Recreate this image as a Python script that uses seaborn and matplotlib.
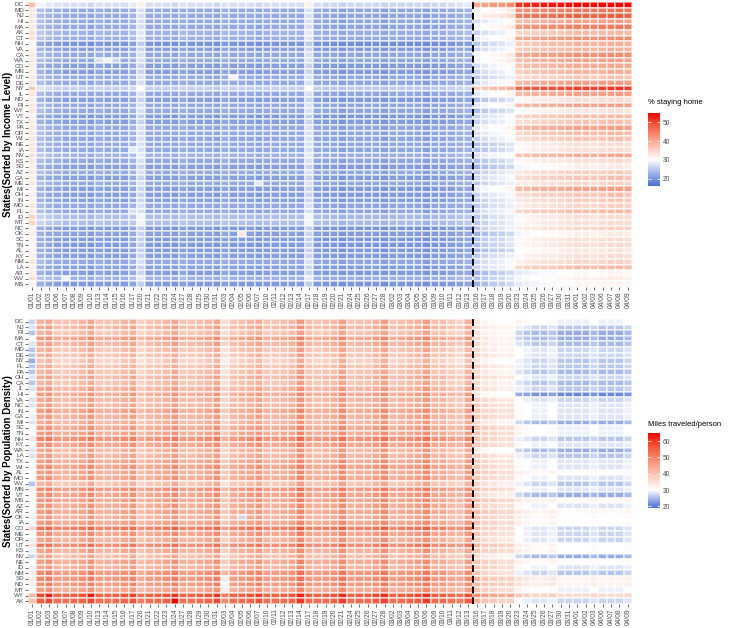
import numpy as np
import pandas as pd
import matplotlib
matplotlib.use("Agg")
import matplotlib.pyplot as plt
import seaborn as sns
from matplotlib.colors import LinearSegmentedColormap

# weekdays 01/01 - 04/09 (2020)
dates = ["01/01", "01/02", "01/03", "01/06", "01/07", "01/08", "01/09", "01/10",
         "01/13", "01/14", "01/15", "01/16", "01/17", "01/20", "01/21", "01/22",
         "01/23", "01/24", "01/27", "01/28", "01/29", "01/30", "01/31",
         "02/03", "02/04", "02/05", "02/06", "02/07", "02/10", "02/11", "02/12",
         "02/13", "02/14", "02/17", "02/18", "02/19", "02/20", "02/21", "02/24",
         "02/25", "02/26", "02/27", "02/28",
         "03/02", "03/03", "03/04", "03/05", "03/06", "03/09", "03/10", "03/11",
         "03/12", "03/13", "03/16", "03/17", "03/18", "03/19", "03/20", "03/23",
         "03/24", "03/25", "03/26", "03/27", "03/30", "03/31",
         "04/01", "04/02", "04/03", "04/06", "04/07", "04/08", "04/09"]

# period of each column: 0 = before 03/13, 1 = week of 03/16, 2 = from 03/23
period = [0] * 53 + [1] * 5 + [2] * 14

income_states = ["DC", "MD", "NJ", "HI", "MA", "AK", "CT", "NH", "VA", "CA",
                 "WA", "CO", "MN", "UT", "DE", "NY", "IL", "ND", "RI", "WY",
                 "VT", "TX", "PA", "OR", "WI", "NE", "IA", "NV", "KS", "SD",
                 "AZ", "GA", "ME", "MI", "OH", "IN", "MO", "FL", "ID", "MT",
                 "NC", "OK", "SC", "TN", "AL", "KY", "NM", "LA", "AR", "WV", "MS"]

density_states = ["DC", "NJ", "RI", "MA", "CT", "MD", "DE", "NY", "FL", "PA",
                  "OH", "CA", "IL", "HI", "VA", "NC", "IN", "GA", "MI", "SC",
                  "TN", "NH", "KY", "WA", "LA", "TX", "WI", "AL", "MO", "WV",
                  "MN", "VT", "MS", "AZ", "AR", "OK", "IA", "CO", "ME", "OR",
                  "UT", "KS", "NV", "NE", "ID", "NM", "SD", "ND", "MT", "WY", "AK"]

# % staying home, typical level per state in each period (income order)
home_pre = [27, 22, 22, 22, 22, 23, 22.5, 20, 21, 22, 22, 21, 21, 22, 22, 25.5, 22,
            21, 22, 22, 20.5, 21, 22, 22, 22, 22, 22, 23, 22, 21, 22, 21, 22, 21, 21,
            21, 22, 22, 24, 24, 20.5, 21, 20.5, 20.5, 20.5, 21, 22, 21, 21, 23, 20.5]
home_mid = [42, 31, 33, 29, 31, 28, 30, 27, 28, 31, 31, 29, 28, 27, 29, 38, 30, 26,
            30, 26, 28, 28, 30, 29, 28, 26, 26, 29, 26, 25, 27, 28, 27, 30, 28, 27,
            27, 28, 27, 27, 27, 25, 26, 26, 25, 27, 28, 28, 25, 26, 25]
home_late = [54, 45, 47, 40, 44, 37, 42, 38, 38, 42, 40, 39, 38, 36, 40, 50, 40, 33,
             40, 32, 37, 36, 40, 37, 36, 33, 33, 39, 33, 31, 35, 36, 34, 40, 36, 35,
             34, 37, 33, 33, 34, 31, 33, 33, 32, 33, 34, 37, 30, 31, 30]
# day-to-day swing of each column
home_day = [11, 2, 1, 0.5, 0, 0, 0, -0.5, 0.5, 0, 0, 0, 1, 5, 0, 0, 0, -0.5, 0.5, 0,
            0, 0, -0.5,
            0.5, 0, 0, 0, -0.5, 0, 0, 0, 0, 0, 5, 0, -0.5, -0.5, -1, -0.5, -0.5,
            -0.5, -0.5, -1,
            -0.5, -0.5, -0.5, -0.5, -1, -0.5, -0.5, 0, 0.5, 1, -2, -1, 0, 0.5, 1.5,
            -2, -1.5, -1, -0.5, -0.5, 0, 0.5,
            1, 1, 0.5, 1, 1.5, 1.5, 1]
home_spots = [("WA", "01/13", 27), ("WA", "01/14", 29), ("WA", "01/15", 26),
              ("WV", "01/07", 29), ("OK", "02/05", 33), ("UT", "02/04", 29),
              ("IA", "01/17", 28), ("FL", "01/17", 27), ("ME", "02/07", 28)]

# miles traveled per person (density order)
miles_pre = [41, 42, 40, 45, 42, 40, 40, 38, 40, 40, 42, 40, 42, 44, 42, 42, 44, 43,
             42, 44, 44, 48, 45, 42, 42, 44, 45, 44, 44, 40, 47, 45, 45, 44, 44, 43,
             44, 51, 45, 43, 49, 43, 41, 44, 43, 47, 47, 47, 44, 56, 54]
miles_mid = [31, 33, 32, 33, 33, 33, 34, 31, 34, 33, 35, 33, 34, 31, 35, 36, 36, 36,
             33, 37, 37, 37, 36, 31, 35, 36, 36, 37, 36, 34, 37, 34, 38, 36, 38, 37,
             37, 37, 36, 35, 39, 37, 33, 37, 37, 36, 39, 39, 37, 45, 39]
miles_late = [30, 27, 25, 25, 26, 28, 28, 27, 27, 26, 28, 26, 27, 22, 28, 29, 29, 29,
              25, 30, 30, 27, 29, 25, 27, 29, 29, 31, 29, 27, 29, 25, 32, 29, 32, 31,
              31, 28, 28, 28, 31, 31, 25, 31, 29, 27, 33, 33, 30, 37, 28]
miles_day = [-14, 2, 4, -1, -1, 0, 1, 4, -1, -1, 0, 1, 3, -3, -1, 0, 1, 4, -1, -1, 0,
             1, 4,
             -5, -1, 0, 1, 3, -1, -1, 0, 1, 6, 0, -1, 0, 1, 5, -1, 0, 0, 2, 5,
             -1, 0, 1, 2, 5, 0, 0, -2, -3, 2, 3, 1, 0, -1, -1, 2, 1, 0, 0, 1, -1, -1,
             -1, -1, 0, -1, -1, -1, 0]
miles_spots = [("AK", "01/24", 66), ("WY", "01/03", 62), ("WY", "01/10", 63),
               ("ND", "02/03", 31), ("SD", "02/03", 33), ("MT", "02/03", 33),
               ("OK", "02/05", 27)]


def build(states, pre, mid, late, day, spots):
    levels = np.column_stack([pre, mid, late])
    grid = levels[:, period] + np.array(day)[None, :]
    df = pd.DataFrame(grid, index=states, columns=dates)
    for st, d, v in spots:
        df.loc[st, d] = v
    return df


def make_cmap(vmin, vmax, mid=30):
    p = (mid - vmin) / (vmax - vmin)
    stops = [(0, "#4a70d6"), (p * 0.5, "#a0b3ea"), (p, "#ffffff"),
             (p + (1 - p) * 0.25, "#fdcab9"), (p + (1 - p) * 0.5, "#fa9378"),
             (p + (1 - p) * 0.75, "#f55a3c"), (1, "#ff0000")]
    return LinearSegmentedColormap.from_list("gr2", stops)


home = build(income_states, home_pre, home_mid, home_late, home_day, home_spots)
miles = build(density_states, miles_pre, miles_mid, miles_late, miles_day, miles_spots)

plt.rcParams["font.family"] = ["Liberation Sans", "DejaVu Sans"]

W, H = 729, 628
fig = plt.figure(figsize=(W / 100, H / 100), dpi=100)
ax_top = fig.add_axes([28 / W, 1 - 287 / H, 604 / W, 285 / H])
ax_bot = fig.add_axes([28 / W, 1 - 604 / H, 604 / W, 285 / H])
cax_top = fig.add_axes([648 / W, 1 - 186 / H, 12 / W, 73 / H])
cax_bot = fig.add_axes([648 / W, 1 - 508 / H, 12 / W, 75 / H])

panels = [
    (ax_top, cax_top, home, 16, 55, [20, 30, 40, 50], "% staying home", 106,
     "States(Sorted by Income Level)"),
    (ax_bot, cax_bot, miles, 19, 65, [20, 30, 40, 50, 60], "Miles traveled/person", 428,
     "States(Sorted by Population Density)"),
]

for ax, cax, df, vmin, vmax, cticks, ctitle, ty, ylab in panels:
    sns.heatmap(df, ax=ax, cbar_ax=cax, cmap=make_cmap(vmin, vmax), vmin=vmin, vmax=vmax,
                linewidths=0.1, linecolor=(1, 1, 1, 0.55), xticklabels=True, yticklabels=True)
    ax.set_xlabel("")
    ax.set_ylabel("")
    ax.set_xticklabels(dates, rotation=90)
    ax.set_yticklabels(df.index, rotation=0)
    ax.tick_params(axis="both", length=2, width=0.5, color="#333333",
                   labelcolor="#4d4d4d", pad=1)
    ax.tick_params(axis="x", labelsize=4.8)
    ax.tick_params(axis="y", labelsize=4.5)
    ax.axvline(53, color="black", linestyle=(0, (3.5, 2)), linewidth=1.4)

    cb = ax.collections[0].colorbar
    cb.set_ticks(cticks)
    cb.outline.set_visible(False)
    cb.ax.tick_params(length=2.5, width=0.6, color="white", direction="in",
                      left=True, right=True, labelsize=4.8, labelcolor="#4d4d4d", pad=2)
    fig.text(648 / W, 1 - ty / H, ctitle, fontsize=5.5, va="bottom", ha="left")

    pos = ax.get_position()
    fig.text(8 / W, (pos.y0 + pos.y1) / 2, ylab, rotation=90, fontweight="bold",
             fontsize=7, ha="center", va="center")

fig.savefig("out.png", dpi=100)
